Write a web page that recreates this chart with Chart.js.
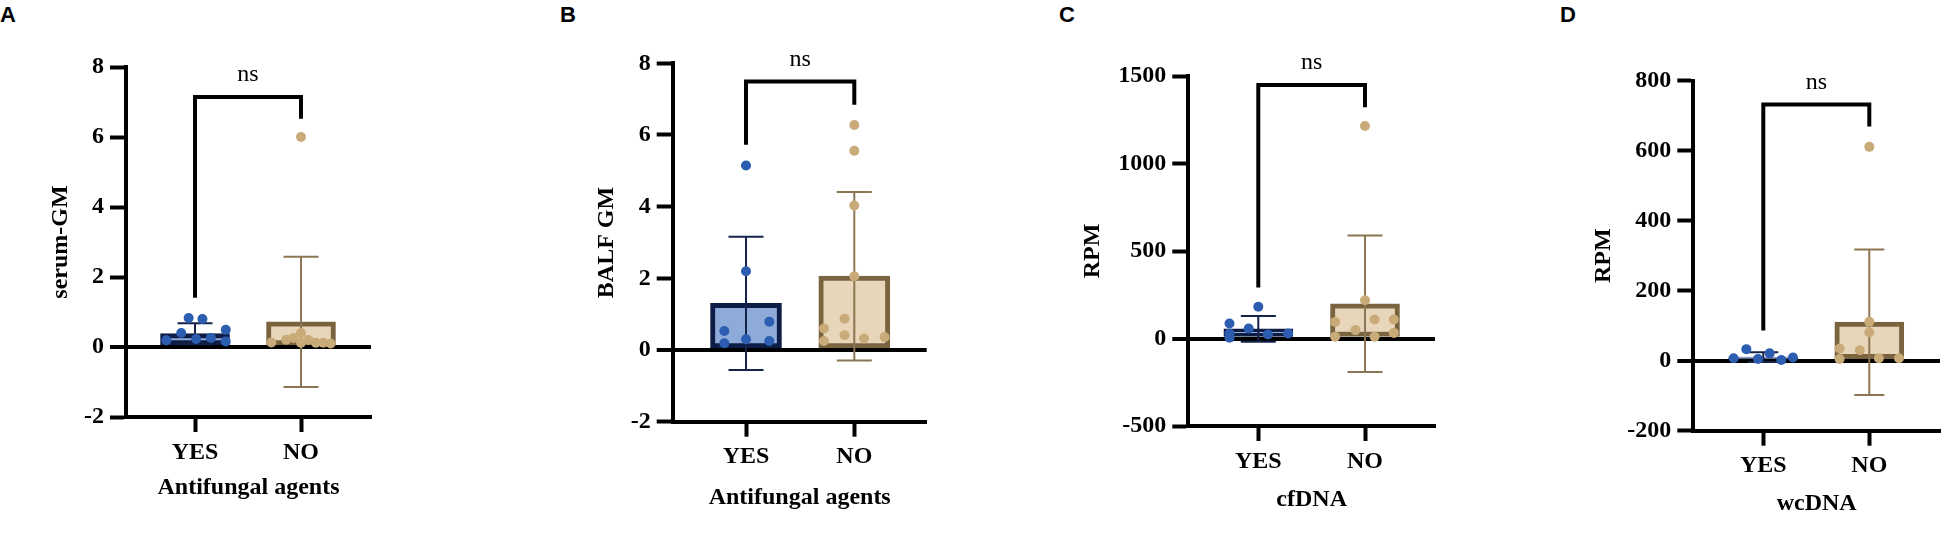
<!DOCTYPE html>
<html><head><meta charset="utf-8">
<script src="https://cdn.jsdelivr.net/npm/chart.js@4.4.1/dist/chart.umd.min.js"></script>
<style>
html,body{margin:0;padding:0;background:#fff;width:1949px;height:554px;overflow:hidden;position:relative}
canvas{position:absolute;top:0}
.lbl{position:absolute;top:4px;font:bold 22px "Liberation Sans",Arial,sans-serif;line-height:22px;color:#000}
</style></head><body>
<div class="lbl" style="left:0px">A</div>
<div class="lbl" style="left:560px">B</div>
<div class="lbl" style="left:1059px">C</div>
<div class="lbl" style="left:1560px">D</div>
<canvas id="cA" width="490" height="554" style="left:0px"></canvas>
<canvas id="cB" width="490" height="554" style="left:490px"></canvas>
<canvas id="cC" width="490" height="554" style="left:980px"></canvas>
<canvas id="cD" width="489" height="554" style="left:1460px"></canvas>
<script>
// ---------- DATA ----------
const categories = ['YES', 'NO'];

// Panel A: serum-GM
const serumMean = [0.38, 0.72];
const serumSD = [0.30, 1.86];
const serumYes = [0.83, 0.80, 0.40, 0.49, 0.19, 0.23, 0.26, 0.16];
const serumYesJitter = [-0.06, 0.07, -0.13, 0.29, -0.27, 0.01, 0.15, 0.29];
const serumNo = [6.0, 0.13, 0.21, 0.26, 0.40, 0.12, 0.20, 0.12, 0.12, 0.10];
const serumNoJitter = [0, -0.28, -0.14, -0.07, 0, 0, 0.07, 0.14, 0.21, 0.28];
const serumTicks = [-2, 0, 2, 4, 6, 8];
const serumBracket = [7.14, 1.41, 6.52];
const serumNsY = 7.77;

// Panel B: BALF GM
const balfMean = [1.30, 2.06];
const balfSD = [1.86, 2.35];
const balfYes = [5.15, 2.2, 0.53, 0.19, 0.30, 0.79, 0.25];
const balfYesJitter = [0, 0, -0.2, -0.2, 0, 0.215, 0.215];
const balfNo = [6.28, 5.56, 4.03, 2.06, 0.87, 0.60, 0.25, 0.41, 0.32, 0.36];
const balfNoJitter = [0, 0, 0, 0, -0.09, -0.28, -0.28, -0.09, 0.09, 0.28];
const balfTicks = [-2, 0, 2, 4, 6, 8];
const balfBracket = [7.49, 5.73, 6.84];
const balfNsY = 8.09;

// Panel C: cfDNA RPM
const cfMean = [55, 198];
const cfSD = [73, 390];
const cfYes = [181, 86, 57, 29, 5, 23, 29];
const cfYesJitter = [0, -0.27, -0.09, -0.27, -0.27, 0.09, 0.28];
const cfNo = [1214, 219, 95, 109, 109, 48, 10, 10, 32];
const cfNoJitter = [0, 0, -0.28, 0.09, 0.27, -0.09, -0.28, 0.09, 0.27];
const cfTicks = [-500, 0, 500, 1000, 1500];
const cfBracket = [1449, 292, 1321];
const cfNsY = 1576;

// Panel D: wcDNA RPM
const wcMean = [10, 110];
const wcSD = [14, 208];
const wcYes = [33, 7, 5, 21, 2, 9];
const wcYesJitter = [-0.16, -0.28, -0.05, 0.06, 0.17, 0.28];
const wcNo = [611, 111, 81, 35, 30, 5, 7, 7];
const wcNoJitter = [0, 0, 0, -0.28, -0.09, -0.28, 0.09, 0.28];
const wcTicks = [-200, 0, 200, 400, 600, 800];
const wcBracket = [732, 86, 669];
const wcNsY = 794;

// ---------- STYLE ----------
const SERIF = '"Liberation Serif","Times New Roman",serif';
const barFill = ['#8eaad9', '#e7d6ba'];
const barBorder = ['#0e1d45', '#7a6440'];
const pointColor = ['#2c5db0', '#c9ab79'];
const errColor = ['#13234a', '#8b7653'];
const TITLE_HALF = 14.4; // half line height of 24px title font

function makePlugin(p) {
  return {
    id: 'panelExtras',
    afterDatasetDraw(chart, args) {
      if (args.index !== 0) return;
      const ctx = chart.ctx;
      const xs = chart.scales.x, ys = chart.scales.y;
      p.mean.forEach((m, i) => {
        const x = xs.getPixelForValue(i);
        const t = ys.getPixelForValue(m + p.sd[i]);
        const b = ys.getPixelForValue(m - p.sd[i]);
        const cap = p.cap;
        ctx.save();
        ctx.strokeStyle = errColor[i];
        ctx.lineWidth = 2;
        ctx.beginPath();
        ctx.moveTo(x, t); ctx.lineTo(x, b);
        ctx.moveTo(x - cap / 2, t); ctx.lineTo(x + cap / 2, t);
        ctx.moveTo(x - cap / 2, b); ctx.lineTo(x + cap / 2, b);
        ctx.stroke();
        ctx.restore();
      });
    },
    afterDraw(chart) {
      const ctx = chart.ctx;
      const xs = chart.scales.x, ys = chart.scales.y;
      const x0 = xs.getPixelForValue(0), x1 = xs.getPixelForValue(1);
      const yt = ys.getPixelForValue(p.bracket[0]);
      const yl = ys.getPixelForValue(p.bracket[1]);
      const yr = ys.getPixelForValue(p.bracket[2]);
      ctx.save();
      ctx.strokeStyle = '#000';
      ctx.lineWidth = 4;
      ctx.lineJoin = 'miter';
      ctx.beginPath();
      ctx.moveTo(x0, yl); ctx.lineTo(x0, yt); ctx.lineTo(x1, yt); ctx.lineTo(x1, yr);
      ctx.stroke();
      ctx.fillStyle = '#000';
      ctx.font = '24px ' + SERIF;
      ctx.textAlign = 'center';
      ctx.textBaseline = 'middle';
      ctx.fillText('ns', (x0 + x1) / 2, ys.getPixelForValue(p.nsY));
      ctx.restore();
    }
  };
}

function makePanel(id, p) {
  const L = p.layout;
  const padLeft = L.yTitleX - TITLE_HALF;
  const yWidth = L.areaLeft - padLeft;
  const xBottom = L.xTitleY + TITLE_HALF;
  const xHeight = xBottom - L.areaBottom;
  const unit = L.unit;
  const xMin = -(L.yesX - L.areaLeft) / unit;
  const xMax = 1 + (L.areaRight - (L.yesX + unit)) / unit;
  const tickFont = { family: SERIF, size: 24, weight: 'bold' };

  return new Chart(document.getElementById(id), {
    type: 'bar',
    data: {
      datasets: [
        {
          type: 'bar',
          data: p.mean.map((m, i) => ({ x: i, y: m })),
          backgroundColor: barFill,
          borderColor: barBorder,
          borderWidth: 5,
          borderSkipped: false,
          barThickness: L.barW,
          order: 2
        },
        {
          type: 'scatter',
          data: p.yes.map((v, i) => ({ x: 0 + p.yesJ[i], y: v })),
          pointRadius: 5,
          pointBackgroundColor: pointColor[0],
          pointBorderWidth: 0,
          order: 1
        },
        {
          type: 'scatter',
          data: p.no.map((v, i) => ({ x: 1 + p.noJ[i], y: v })),
          pointRadius: 5,
          pointBackgroundColor: pointColor[1],
          pointBorderWidth: 0,
          order: 1
        }
      ]
    },
    options: {
      responsive: false,
      animation: false,
      events: [],
      layout: { padding: { left: padLeft, right: L.canvasW - L.areaRight, top: L.areaTop, bottom: 554 - xBottom } },
      plugins: { legend: { display: false }, tooltip: { enabled: false } },
      scales: {
        x: {
          type: 'linear', min: xMin, max: xMax, offset: false,
          afterBuildTicks: s => { s.ticks = categories.map((c, i) => ({ value: i })); },
          afterFit: s => { s.height = xHeight; },
          ticks: { callback: v => categories[v], font: tickFont, color: '#000', padding: 6, maxRotation: 0, autoSkip: false },
          grid: { display: true, offset: false, drawOnChartArea: false, drawTicks: true, tickLength: 15, tickWidth: 4, tickColor: '#000' },
          border: { display: true, width: 4, color: '#000' },
          title: { display: true, text: p.xTitle, font: tickFont, color: '#000', padding: 0 }
        },
        y: {
          type: 'linear', min: p.ticks[0], max: p.ticks[p.ticks.length - 1],
          afterBuildTicks: s => { s.ticks = p.ticks.map(v => ({ value: v })); },
          afterFit: s => { s.width = yWidth; },
          ticks: { callback: v => String(v), font: tickFont, color: '#000', padding: 6 },
          grid: {
            drawOnChartArea: true,
            color: c => (c.tick && c.tick.value === 0) ? '#000' : 'rgba(0,0,0,0)',
            lineWidth: c => (c.tick && c.tick.value === 0) ? 4 : 1,
            tickLength: 16, tickWidth: 4, tickColor: '#000'
          },
          border: { display: true, width: 4, color: '#000' },
          title: { display: true, text: p.yTitle, font: tickFont, color: '#000', padding: 0 }
        }
      }
    },
    plugins: [makePlugin(p)]
  });
}

makePanel('cA', {
  mean: serumMean, sd: serumSD, yes: serumYes, yesJ: serumYesJitter, no: serumNo, noJ: serumNoJitter,
  ticks: serumTicks, bracket: serumBracket, nsY: serumNsY, yTitle: 'serum-GM', xTitle: 'Antifungal agents', cap: 35,
  layout: { canvasW: 490, areaLeft: 126, areaRight: 371, areaTop: 67, areaBottom: 417, yesX: 195, unit: 106, yTitleX: 61, xTitleY: 488, barW: 69 }
});
makePanel('cB', {
  mean: balfMean, sd: balfSD, yes: balfYes, yesJ: balfYesJitter, no: balfNo, noJ: balfNoJitter,
  ticks: balfTicks, bracket: balfBracket, nsY: balfNsY, yTitle: 'BALF GM', xTitle: 'Antifungal agents', cap: 35,
  layout: { canvasW: 490, areaLeft: 182.7, areaRight: 436.7, areaTop: 63.3, areaBottom: 421.7, yesX: 256, unit: 108.3, yTitleX: 116.7, xTitleY: 498, barW: 71 }
});
makePanel('cC', {
  mean: cfMean, sd: cfSD, yes: cfYes, yesJ: cfYesJitter, no: cfNo, noJ: cfNoJitter,
  ticks: cfTicks, bracket: cfBracket, nsY: cfNsY, yTitle: 'RPM', xTitle: 'cfDNA', cap: 35,
  layout: { canvasW: 490, areaLeft: 208.3, areaRight: 455, areaTop: 76, areaBottom: 426, yesX: 278.3, unit: 106.7, yTitleX: 112.7, xTitleY: 500, barW: 69 }
});
makePanel('cD', {
  mean: wcMean, sd: wcSD, yes: wcYes, yesJ: wcYesJitter, no: wcNo, noJ: wcNoJitter,
  ticks: wcTicks, bracket: wcBracket, nsY: wcNsY, yTitle: 'RPM', xTitle: 'wcDNA', cap: 30,
  layout: { canvasW: 489, areaLeft: 233.3, areaRight: 480, areaTop: 80.7, areaBottom: 430.7, yesX: 303.3, unit: 106, yTitleX: 143.3, xTitleY: 503.3, barW: 69 }
});
</script>
</body></html>
